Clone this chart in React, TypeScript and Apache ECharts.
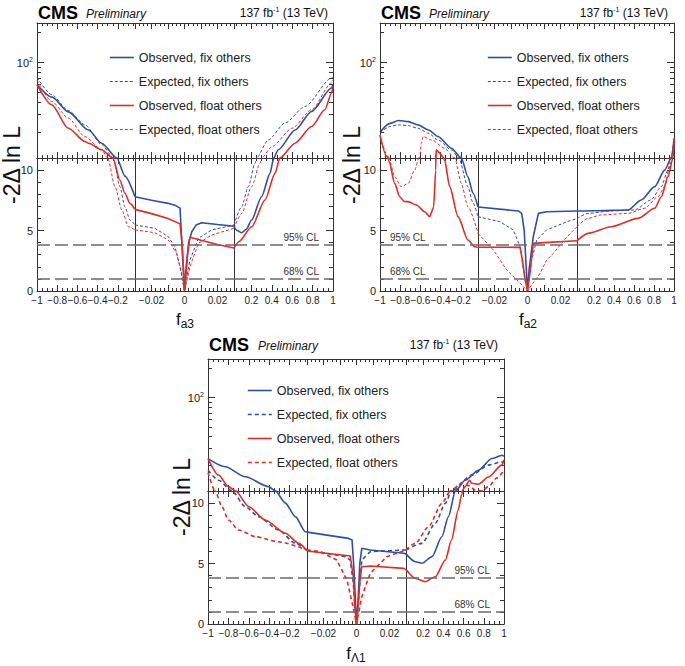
import React, { useEffect, useRef } from 'react';
import * as echarts from 'echarts';

// ---------------- data ----------------
const seriesNames = ['Observed, fix others', 'Expected, fix others', 'Observed, float others', 'Expected, float others'];
const xTickLabelsLeft = [-1, -0.8, -0.6, -0.4, -0.2];
const xTickLabelsMid = [-0.02, 0, 0.02];
const xTickLabelsRight = [0.2, 0.4, 0.6, 0.8, 1];
const yTickLabelsLin = [0, 5, 10];
const yTickLabelsLog = [100];
const yMinorLog = [20, 30, 40, 50, 60, 70, 80, 90, 200];
const clLevels = [1.0, 3.84];
const clLabels = ['68% CL', '95% CL'];
const xTitleSubs = ['a3', 'a2', 'Λ1'];

// f_a3
const fa3ObsFix = [[-1, 60], [-0.85, 45], [-0.69, 32], [-0.49, 21], [-0.36, 15.5], [-0.21, 11], [-0.13, 9.5], [-0.03, 7.8],
  [-0.02, 7.5], [-0.01, 7.25], [-0.0058, 7.1], [-0.0027, 6.85], [-0.002, 5.0], [-0.001, 2.5], [0, 0.05],
  [0.001, 2.0], [0.0025, 4.0], [0.0044, 4.9], [0.007, 5.45], [0.0104, 5.65], [0.02, 5.5], [0.03, 5.35],
  [0.06, 5.0], [0.105, 4.82], [0.15, 5.1], [0.203, 5.87], [0.3, 7.8], [0.383, 9.73], [0.415, 10.83], [0.464, 13.3],
  [0.628, 21], [0.79, 32.3], [0.986, 55.6], [1, 60]];
const fa3ExpFix = [[-1, 71], [-0.855, 47.6], [-0.69, 33], [-0.525, 23.7], [-0.36, 15], [-0.245, 11], [-0.18, 8.63], [-0.13, 6.97], [-0.08, 5.87], [-0.03, 5.46],
  [-0.018, 5.19], [-0.0098, 4.49], [-0.0058, 3.66], [-0.0027, 2.0], [0, 0], [0.0033, 2.56], [0.0084, 4.36], [0.0165, 5.05], [0.03, 5.46],
  [0.105, 6.97], [0.17, 8.63], [0.236, 10.56], [0.25, 11], [0.366, 16.7], [0.53, 24.7], [0.726, 36.3], [0.986, 70], [1, 72]];
const fa3ObsFloat = [[-1, 60], [-0.855, 37.7], [-0.69, 21.9], [-0.525, 16.1], [-0.49, 15.5], [-0.36, 13.3], [-0.25, 11], [-0.18, 9.18], [-0.13, 8.08], [-0.08, 7.25], [-0.03, 6.75],
  [-0.02, 6.4], [-0.01, 6.0], [-0.0027, 5.55], [-0.0015, 4.0], [-0.0007, 2.0], [0, 0],
  [0.001, 1.5], [0.002, 3.2], [0.0033, 4.45], [0.01, 4.2], [0.02, 3.85], [0.03, 3.55],
  [0.08, 4.1], [0.203, 5.32], [0.334, 7.53], [0.432, 9.73], [0.48, 11], [0.628, 15.5], [0.79, 22.8], [0.92, 33.6], [0.986, 49.5], [1, 57]];
const fa3ExpFloat = [[-1, 67], [-0.855, 40.8], [-0.69, 27.7], [-0.525, 18], [-0.36, 13.3], [-0.3, 11], [-0.228, 8.63], [-0.16, 6.7], [-0.096, 5.32], [-0.03, 5.05],
  [-0.018, 4.82], [-0.0098, 4.22], [-0.0048, 3.12], [-0.0017, 1.46], [0, 0], [0.0033, 2.0], [0.0084, 3.94], [0.0165, 4.63], [0.03, 5.19],
  [0.105, 6.42], [0.203, 8.63], [0.285, 10.56], [0.3, 11], [0.4, 14.3], [0.6, 21.9], [0.79, 33.6], [0.986, 62.5], [1, 67]];

// f_a2
const fa2ObsFix = [[-1, 20], [-0.9, 24.5], [-0.82, 26.2], [-0.72, 25.5], [-0.624, 23.7], [-0.52, 21], [-0.426, 18.1], [-0.294, 13.8], [-0.195, 11], [-0.13, 9.45], [-0.08, 8.1], [-0.03, 6.95],
  [-0.0056, 6.62], [-0.0035, 6.42], [-0.002, 5.0], [-0.001, 2.5], [0, 0], [0.001, 1.8], [0.0035, 4.49], [0.0066, 6.42], [0.0116, 6.56], [0.03, 6.62],
  [0.207, 6.64], [0.54, 6.7], [0.673, 7.53], [0.807, 8.63], [0.907, 10.0], [0.973, 11], [1, 17]];
const fa2ExpFix = [[-1, 19.8], [-0.9, 22.8], [-0.82, 23.7], [-0.72, 23.3], [-0.624, 21.9], [-0.52, 19.5], [-0.426, 16.7], [-0.294, 13.3], [-0.22, 11], [-0.13, 8.63], [-0.08, 7.3], [-0.03, 6.15],
  [-0.0167, 5.73], [-0.0086, 5.05], [-0.0045, 3.67], [-0.0019, 1.19], [0, 0], [0.0025, 2.56], [0.0056, 4.22], [0.0116, 5.05], [0.024, 5.73], [0.03, 6.0],
  [0.14, 6.42], [0.373, 6.62], [0.607, 6.7], [0.77, 7.53], [0.873, 8.63], [0.94, 10], [0.99, 11], [1, 14]];
const fa2ObsFloat = [[-1, 18.8], [-0.937, 11.6], [-0.91, 10.7], [-0.855, 8.9], [-0.805, 7.8], [-0.76, 7.4], [-0.72, 7.39], [-0.64, 7.11], [-0.557, 6.56], [-0.508, 6.15],
  [-0.47, 6.9], [-0.448, 10], [-0.443, 13.3], [-0.42, 12.6], [-0.36, 10.8], [-0.31, 8.63], [-0.228, 6.15], [-0.13, 4.22], [-0.063, 3.66], [-0.03, 3.62],
  [-0.0045, 3.61], [-0.003, 2.5], [-0.0015, 1.0], [0, 0], [0.0015, 1.5], [0.0035, 3.94], [0.01, 4.0], [0.03, 4.16],
  [0.14, 4.77], [0.373, 5.32], [0.64, 6.01], [0.807, 6.84], [0.873, 7.8], [0.94, 9.45], [0.99, 11], [1, 17.5]];
const fa2ExpFloat = [[-1, 18], [-0.92, 11.3], [-0.855, 9.45], [-0.79, 8.63], [-0.72, 8.9], [-0.657, 10.0], [-0.607, 11.2], [-0.59, 15.5], [-0.574, 18.1], [-0.49, 16.7], [-0.36, 13.8], [-0.26, 11], [-0.195, 8.9], [-0.13, 6.97], [-0.03, 4.77],
  [-0.0207, 3.39], [-0.0126, 1.74], [-0.0045, 0.64], [0, 0], [0.0076, 1.46], [0.0116, 2.56], [0.0157, 3.12], [0.024, 4.49], [0.03, 5.32],
  [0.14, 6.01], [0.273, 6.29], [0.54, 6.42], [0.707, 6.84], [0.84, 7.8], [0.907, 8.63], [0.973, 11.2], [1, 16]];

// f_Λ1
const fL1ObsFix = [[-1, 23.7], [-0.83, 19.5], [-0.634, 15.4], [-0.406, 12.2], [-0.34, 11], [-0.242, 10.0], [-0.144, 8.88], [-0.046, 7.63], [-0.03, 7.6],
  [-0.0048, 7.08], [-0.0027, 6.95], [-0.0015, 4.5], [-0.0007, 2.0], [0, 0], [0.001, 2.0], [0.002, 5.0], [0.0032, 6.26], [0.0083, 6.12], [0.0286, 5.85], [0.03, 5.8],
  [0.122, 5.15], [0.188, 5.02], [0.287, 5.57], [0.385, 7.22], [0.45, 8.88], [0.517, 10.95], [0.616, 14.2], [0.747, 18], [0.88, 23.7], [0.98, 25.6], [1, 25]];
const fL1ExpFix = [[-1, 18], [-0.896, 14.2], [-0.765, 11], [-0.634, 9.7], [-0.504, 8.88], [-0.31, 7.78], [-0.144, 6.67], [-0.03, 6.12],
  [-0.0068, 5.57], [-0.0038, 5.29], [-0.002, 3.5], [-0.001, 1.5], [0, 0], [0.0015, 2.5], [0.0032, 5.29], [0.0083, 5.98], [0.0286, 6.12], [0.03, 6.12],
  [0.188, 6.67], [0.32, 8.33], [0.42, 9.98], [0.48, 11], [0.68, 16], [0.845, 20.3], [0.98, 21.9], [1, 21.5]];
const fL1ObsFloat = [[-1, 23.7], [-0.896, 16], [-0.8, 12.2], [-0.73, 11], [-0.6, 9.7], [-0.44, 8.6], [-0.242, 7.5], [-0.11, 6.67], [-0.03, 6.04],
  [-0.0038, 5.62], [-0.002, 4.0], [-0.001, 1.5], [0, 0], [0.001, 1.5], [0.002, 3.5], [0.0032, 4.74], [0.0083, 4.8], [0.0286, 4.6], [0.03, 4.5],
  [0.122, 3.78], [0.22, 3.5], [0.32, 3.91], [0.42, 5.29], [0.48, 6.95], [0.547, 9.43], [0.58, 10.67], [0.614, 12.2], [0.66, 14.2], [0.68, 13.2], [0.747, 12.9], [0.845, 15.3], [0.98, 20.4], [1, 23]];
const fL1ExpFloat = [[-1, 17], [-0.93, 11], [-0.863, 9.7], [-0.8, 8.6], [-0.7, 7.78], [-0.536, 7.22], [-0.31, 6.8], [-0.03, 6.12],
  [-0.022, 5.98], [-0.012, 5.29], [-0.0058, 3.64], [-0.0021, 1.43], [0, 0], [0.0032, 2.26], [0.0083, 4.19], [0.0184, 5.57], [0.03, 6.12],
  [0.122, 6.67], [0.253, 8.05], [0.385, 9.98], [0.47, 11], [0.58, 13.3], [0.65, 12.5], [0.72, 11.2], [0.78, 11], [0.85, 12.3], [0.93, 15], [1, 18]];

// ---------------- layout / style ----------------
const FONT = '"Liberation Sans", Arial, Helvetica, sans-serif';
const BLUE = '#2d4fa8';
const RED = '#e42b24';
const AX = '#333';

const PANELS = [
  { curves: [fa3ObsFix, fa3ExpFix, fa3ObsFloat, fa3ExpFloat], cols: [37, 135, 234, 333], rows: [23, 158, 291],
    titleY: 13, cmsX: 38, prelimX: 86, lumiX: 328, yTitle: [12, 165], xTitle: [185, 319], legend: [109, 51], clSide: 'right', thick: false },
  { curves: [fa2ObsFix, fa2ExpFix, fa2ObsFloat, fa2ExpFloat], cols: [380, 478, 577, 674], rows: [23, 158, 291],
    titleY: 13, cmsX: 381, prelimX: 429, lumiX: 668, yTitle: [352, 165], xTitle: [528, 319], legend: [487, 51], clSide: 'left', thick: false },
  { curves: [fL1ObsFix, fL1ExpFix, fL1ObsFloat, fL1ExpFloat], cols: [208, 307, 406, 504], rows: [359, 491, 624],
    titleY: 345, cmsX: 209, prelimX: 258, lumiX: 498, yTitle: [182, 497], xTitle: [356, 653], legend: [247, 384], clSide: 'right', thick: true },
];

function range(a: number, b: number, step: number) {
  const out: number[] = [];
  const n = Math.round((b - a) / step);
  for (let i = 0; i <= n; i++) out.push(+(a + i * step).toFixed(6));
  return out;
}

function fmtX(v: number) {
  const r = Math.round(v * 10000) / 10000;
  if (Math.abs(r) < 1e-9) return '0';
  return (r < 0 ? '\u2212' : '') + String(Math.abs(r));
}

function lineStyleFor(k: number, thick: boolean) {
  const color = k < 2 ? BLUE : RED;
  const dashed = k % 2 === 1;
  if (!dashed) return { color, width: 1.6, type: 'solid' as any };
  return thick ? { color, width: 1.6, type: [4, 3] as any } : { color, width: 1, type: [3, 2] as any };
}

function buildOption() {
  const grid: any[] = [], xAxis: any[] = [], yAxis: any[] = [], series: any[] = [], legend: any[] = [], graphic: any[] = [];
  const segs = [
    { min: -1, max: -0.03, labels: xTickLabelsLeft, major: xTickLabelsLeft, minor: range(-1, -0.05, 0.05) },
    { min: -0.03, max: 0.03, labels: xTickLabelsMid, major: range(-0.03, 0.03, 0.01), minor: range(-0.03, 0.03, 0.0025) },
    { min: 0.03, max: 1, labels: xTickLabelsRight, major: xTickLabelsRight, minor: range(0.05, 1, 0.05) },
  ];
  const axLine = { show: true, onZero: false, lineStyle: { color: AX, width: 1 } };
  const noLine = { show: false, onZero: false };

  PANELS.forEach((p, pi) => {
    for (let r = 0; r < 2; r++) {
      for (let c = 0; c < 3; c++) {
        const gi = grid.length;
        grid.push({ left: p.cols[c], top: p.rows[r], width: p.cols[c + 1] - p.cols[c], height: p.rows[r + 1] - p.rows[r], containLabel: false });
        const seg = segs[c];
        const isLog = r === 0;
        const xb = { type: 'value', gridIndex: gi, min: seg.min, max: seg.max, splitLine: { show: false } };
        const xMain = xAxis.length;
        xAxis.push({ ...xb, position: 'bottom', axisLine: axLine,
          axisTick: { show: true, inside: true, length: 6, customValues: seg.major, lineStyle: { color: AX } },
          axisLabel: { show: r === 1, customValues: seg.labels, formatter: fmtX, margin: 4, fontSize: 10, fontFamily: FONT, color: '#222',
            showMinLabel: true, showMaxLabel: true, hideOverlap: false } });
        xAxis.push({ ...xb, position: 'bottom', axisLine: noLine,
          axisTick: { show: true, inside: true, length: 3, customValues: seg.minor, lineStyle: { color: AX } }, axisLabel: { show: false } });
        xAxis.push({ ...xb, position: 'top', axisLine: axLine,
          axisTick: { show: true, inside: true, length: 6, customValues: seg.major, lineStyle: { color: AX } }, axisLabel: { show: false } });
        xAxis.push({ ...xb, position: 'top', axisLine: noLine,
          axisTick: { show: true, inside: true, length: 3, customValues: seg.minor, lineStyle: { color: AX } }, axisLabel: { show: false } });

        const yb: any = isLog ? { type: 'log', logBase: 10, min: 11, max: 250 } : { type: 'value', min: 0, max: 11 };
        yb.gridIndex = gi;
        yb.splitLine = { show: false };
        const majors = isLog ? yTickLabelsLog : yTickLabelsLin;
        const minors = isLog ? yMinorLog : range(0, 11, 1);
        const yMain = yAxis.length;
        yAxis.push({ ...yb, position: 'left', axisLine: (c === 0 || r === 1) ? axLine : noLine,
          axisTick: { show: c === 0, inside: true, length: 7, customValues: majors, lineStyle: { color: AX } },
          axisLabel: { show: c === 0, customValues: majors, margin: 4, fontSize: 11, fontFamily: FONT, color: '#222', showMinLabel: true, showMaxLabel: true,
            formatter: isLog ? (v: number) => '{b|10}{s|' + Math.round(Math.log10(v)) + '}' : (v: number) => String(v),
            rich: { b: { fontSize: 11, fontFamily: FONT, color: '#222' }, s: { fontSize: 7, fontFamily: FONT, color: '#222', verticalAlign: 'top', padding: [0, 0, 6, 0] } } } });
        if (c === 0) {
          yAxis.push({ ...yb, position: 'left', axisLine: noLine,
            axisTick: { show: true, inside: true, length: 4, customValues: minors, lineStyle: { color: AX } }, axisLabel: { show: false } });
        }
        if (c === 2) {
          yAxis.push({ ...yb, position: 'right', axisLine: axLine,
            axisTick: { show: true, inside: true, length: 7, customValues: majors, lineStyle: { color: AX } }, axisLabel: { show: false } });
          yAxis.push({ ...yb, position: 'right', axisLine: noLine,
            axisTick: { show: true, inside: true, length: 4, customValues: minors, lineStyle: { color: AX } }, axisLabel: { show: false } });
        }

        // curves
        p.curves.forEach((curve, k) => {
          const data = curve.filter(([x]) => x >= seg.min - 1e-9 && x <= seg.max + 1e-9);
          if (isLog && !data.some(d => d[1] > 11)) return;
          const plotted = isLog ? data.filter(d => d[1] > 0) : data;
          const s: any = {
            type: 'line', name: seriesNames[k], xAxisIndex: xMain, yAxisIndex: yMain, data: plotted,
            symbol: 'none', showSymbol: false, clip: true, silent: true, z: 3,
            smooth: c === 1 ? false : 0.25, smoothMonotone: 'x',
            lineStyle: lineStyleFor(k, p.thick), itemStyle: { color: k < 2 ? BLUE : RED },
            emphasis: { disabled: true },
          };
          if (!isLog && k === 0) {
            const showLbl = (p.clSide === 'right' && c === 2) || (p.clSide === 'left' && c === 0);
            s.markLine = {
              silent: true, symbol: 'none', animation: false,
              lineStyle: { color: '#6a6a6a', width: 1.5, type: [13, 5] },
              data: clLevels.map((v, i) => ({
                yAxis: v,
                label: { show: showLbl, formatter: clLabels[i], position: p.clSide === 'right' ? 'insideEndTop' : 'insideStartTop',
                  distance: [p.clSide === 'right' ? 14 : 10, 2], fontSize: 10, fontFamily: FONT, color: '#333' },
              })),
            };
          }
          series.push(s);
        });
      }
    }

    legend.push({
      orient: 'vertical', left: p.legend[0], top: p.legend[1], padding: 0,
      itemWidth: 24, itemHeight: 14, itemGap: 11, selectedMode: false,
      textStyle: { fontSize: 12.5, fontFamily: FONT, color: '#222' },
      data: seriesNames.map((n, k) => ({ name: n, lineStyle: lineStyleFor(k, p.thick), itemStyle: { opacity: 0 } })),
    });

    graphic.push(
      { type: 'text', x: p.cmsX, y: p.titleY, style: { text: 'CMS', fontSize: 18, fontWeight: 'bold', fontFamily: FONT, fill: '#000', textVerticalAlign: 'middle' } },
      { type: 'text', x: p.prelimX, y: p.titleY + 1, style: { text: 'Preliminary', fontSize: 12, fontStyle: 'italic', fontFamily: FONT, fill: '#111', textVerticalAlign: 'middle' } },
      { type: 'text', x: p.lumiX, y: p.titleY, style: { text: '137 fb{s|-1} (13 TeV)', fontSize: 12, fontFamily: FONT, fill: '#111', textAlign: 'right', textVerticalAlign: 'middle',
        rich: { s: { fontSize: 7, fontFamily: FONT, fill: '#111', padding: [0, 0, 7, 0] } } } },
      { type: 'text', x: p.yTitle[0], y: p.yTitle[1], rotation: Math.PI / 2, style: { text: '-2\u0394 ln L', fontSize: 23, fontFamily: FONT, fill: '#111', textAlign: 'center', textVerticalAlign: 'middle' } },
      { type: 'text', x: p.xTitle[0], y: p.xTitle[1], style: { text: 'f{s|' + xTitleSubs[pi] + '}', fontSize: 17, fontFamily: FONT, fill: '#111', textAlign: 'center', textVerticalAlign: 'middle',
        rich: { s: { fontSize: 12, fontFamily: FONT, fill: '#111', padding: [10, 0, 0, 0] } } } },
    );
  });

  return { animation: false, backgroundColor: '#fff', grid, xAxis, yAxis, series, legend, graphic };
}

export default function App() {
  const ref = useRef<HTMLDivElement>(null);
  useEffect(() => {
    if (!ref.current) return;
    const chart = echarts.init(ref.current, undefined, { renderer: 'svg' });
    chart.setOption(buildOption() as any);
    return () => chart.dispose();
  }, []);
  return <div ref={ref} style={{ position: 'absolute', left: 0, top: 0, width: 685, height: 666 }} />;
}
